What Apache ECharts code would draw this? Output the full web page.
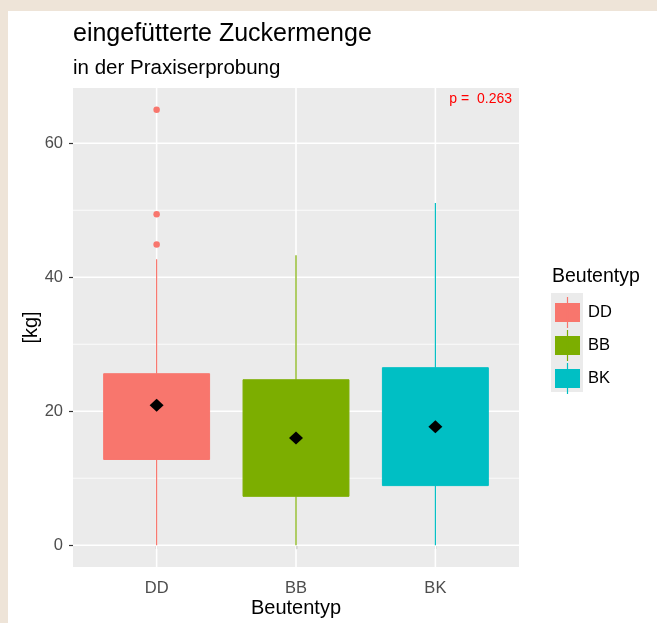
<!DOCTYPE html>
<html>
<head>
<meta charset="utf-8">
<script src="https://cdn.jsdelivr.net/npm/echarts@6/dist/echarts.min.js"></script>
<style>
  html, body { margin: 0; padding: 0; background: #EEE4D8; }
  #card { position: absolute; left: 8px; top: 11px; width: 649px; height: 612px; background: #FFFFFF; }
  #chart { position: absolute; left: 0; top: 0; width: 657px; height: 623px; }
</style>
</head>
<body>
<div id="card"></div>
<div id="chart"></div>
<script>
// ---- data ----
const categories = ['DD', 'BB', 'BK'];
const colors = ['#F8766D', '#7CAE00', '#00BFC4'];
const whiskerLow = [0, 0, 0];
const q1 = [12.8, 7.3, 8.9];
const q3 = [25.6, 24.7, 26.5];
const whiskerHigh = [42.7, 43.3, 51.1];
const means = [20.9, 16.0, 17.7];
const outliersDD = [65.0, 49.4, 44.9];
const yMajorTicks = [0, 20, 40, 60];
const yMinorTicks = [10, 30, 50];
const pLabel = 'p =  0.263';

const FONT = 'Liberation Sans, Arial, sans-serif';
const xPositions = categories.map((c, i) => i + 1);

const chart = echarts.init(document.getElementById('chart'), null, { renderer: 'canvas' });

const gridSeries = {
  type: 'custom',
  name: 'grid',
  silent: true,
  z: 1,
  data: [
    ...yMinorTicks.map(v => [v, 0, 0]),
    ...yMajorTicks.map(v => [v, 1, 0]),
    ...xPositions.map(v => [v, 1, 1])
  ],
  encode: { x: -1, y: -1 },
  renderItem: function (params, api) {
    const cs = params.coordSys;
    const v = api.value(0), major = api.value(1), vertical = api.value(2);
    const lw = major ? 1.6 : 0.8;
    if (vertical) {
      const p = api.coord([v, 0]);
      return { type: 'line', shape: { x1: p[0], y1: cs.y, x2: p[0], y2: cs.y + cs.height },
               style: { stroke: '#FFFFFF', lineWidth: lw } };
    }
    const p = api.coord([1, v]);
    return { type: 'line', shape: { x1: cs.x, y1: p[1], x2: cs.x + cs.width, y2: p[1] },
             style: { stroke: '#FFFFFF', lineWidth: lw } };
  }
};

const boxSeries = categories.map((name, i) => ({
  type: 'custom',
  name: name,
  z: 3,
  itemStyle: { color: colors[i] },
  encode: { x: 0, y: [1, 2, 3, 4] },
  data: [[xPositions[i], whiskerLow[i], q1[i], q3[i], whiskerHigh[i]]],
  renderItem: function (params, api) {
    const x = api.value(0);
    const pLow = api.coord([x, api.value(1)]);
    const pQ1 = api.coord([x, api.value(2)]);
    const pQ3 = api.coord([x, api.value(3)]);
    const pHigh = api.coord([x, api.value(4)]);
    const w = api.size([0.76, 0])[0];
    const col = api.visual('color');
    return {
      type: 'group',
      children: [
        { type: 'line', shape: { x1: pHigh[0], y1: pHigh[1], x2: pQ3[0], y2: pQ3[1] }, style: { stroke: col, lineWidth: 1.2 } },
        { type: 'line', shape: { x1: pQ1[0], y1: pQ1[1], x2: pLow[0], y2: pLow[1] }, style: { stroke: col, lineWidth: 1.2 } },
        { type: 'rect', shape: { x: pQ3[0] - w / 2, y: pQ3[1], width: w, height: pQ1[1] - pQ3[1] },
          style: { fill: col, stroke: col, lineWidth: 1 } }
      ]
    };
  }
}));

// legend key layout (decoration)
const LEG_LEFT = 555, LEG_TOP = 303, KEY_W = 25, KEY_H = 19, KEY_PITCH = 33;
const legendLines = categories.map((c, i) => ({
  type: 'line', z: 20,
  shape: { x1: LEG_LEFT + KEY_W / 2, y1: LEG_TOP + i * KEY_PITCH - 6, x2: LEG_LEFT + KEY_W / 2, y2: LEG_TOP + i * KEY_PITCH + KEY_H + 6 },
  style: { stroke: colors[i], lineWidth: 1.2 }
}));

const option = {
  backgroundColor: 'transparent',
  animation: false,
  textStyle: { fontFamily: FONT },
  grid: { left: 73, top: 88, width: 446, height: 480, show: true, backgroundColor: '#EBEBEB', borderWidth: 0 },
  xAxis: {
    type: 'value', min: 0.4, max: 3.6,
    name: 'Beutentyp', nameLocation: 'middle', nameGap: 31, nameMoveOverlap: false,
    nameTextStyle: { fontSize: 20, color: '#000000', fontFamily: FONT },
    axisLine: { show: false },
    splitLine: { show: false },
    axisTick: { show: true, length: 4, lineStyle: { color: '#333333', width: 1.2 }, customValues: xPositions },
    axisLabel: { show: true, margin: 13, fontSize: 16.5, color: '#4D4D4D', fontFamily: FONT,
                 customValues: xPositions, formatter: v => categories[Math.round(v) - 1] || '' }
  },
  yAxis: {
    type: 'value', min: -3.25, max: 68.25,
    name: '[kg]', nameLocation: 'middle', nameGap: 32, nameMoveOverlap: false,
    nameTextStyle: { fontSize: 20, color: '#000000', fontFamily: FONT },
    axisLine: { show: false },
    splitLine: { show: false },
    axisTick: { show: true, length: 4, lineStyle: { color: '#333333', width: 1.2 }, customValues: yMajorTicks },
    axisLabel: { show: true, margin: 10, fontSize: 16.5, color: '#4D4D4D', fontFamily: FONT,
                 customValues: yMajorTicks }
  },
  legend: {
    orient: 'vertical', left: LEG_LEFT, top: LEG_TOP, z: 10, padding: 0,
    data: categories,
    icon: 'rect',
    itemWidth: KEY_W, itemHeight: KEY_H, itemGap: KEY_PITCH - KEY_H,
    textStyle: { fontSize: 16.5, color: '#000000', fontFamily: FONT, padding: [0, 0, 0, 3] },
    selectedMode: false
  },
  graphic: [
    { type: 'text', x: 73, y: 34, style: { text: 'eingefütterte Zuckermenge', font: '25px ' + FONT, fill: '#000000', verticalAlign: 'middle' } },
    { type: 'text', x: 73, y: 68, style: { text: 'in der Praxiserprobung', font: '20.5px ' + FONT, fill: '#000000', verticalAlign: 'middle' } },
    { type: 'text', x: 552, y: 277, style: { text: 'Beutentyp', font: '19.5px ' + FONT, fill: '#000000', verticalAlign: 'middle' } },
    { type: 'rect', x: 551, y: 293, shape: { width: 32, height: 99 }, style: { fill: '#EBEBEB' }, z: -1 },
    ...legendLines,
    { type: 'text', x: 512, y: 99, z: 20, style: { text: pLabel, font: '14px ' + FONT, fill: '#FF0000', align: 'right', verticalAlign: 'middle' } }
  ],
  series: [
    gridSeries,
    ...boxSeries,
    {
      type: 'scatter', name: 'outliers', z: 4,
      symbol: 'circle', symbolSize: 6.5,
      itemStyle: { color: colors[0], opacity: 1 },
      data: outliersDD.map(v => [xPositions[0], v])
    },
    {
      type: 'scatter', name: 'mean', z: 5,
      symbol: 'diamond', symbolSize: [14, 13],
      itemStyle: { color: '#000000', opacity: 1 },
      data: means.map((v, i) => [xPositions[i], v])
    }
  ]
};
chart.setOption(option);
</script>
</body>
</html>
